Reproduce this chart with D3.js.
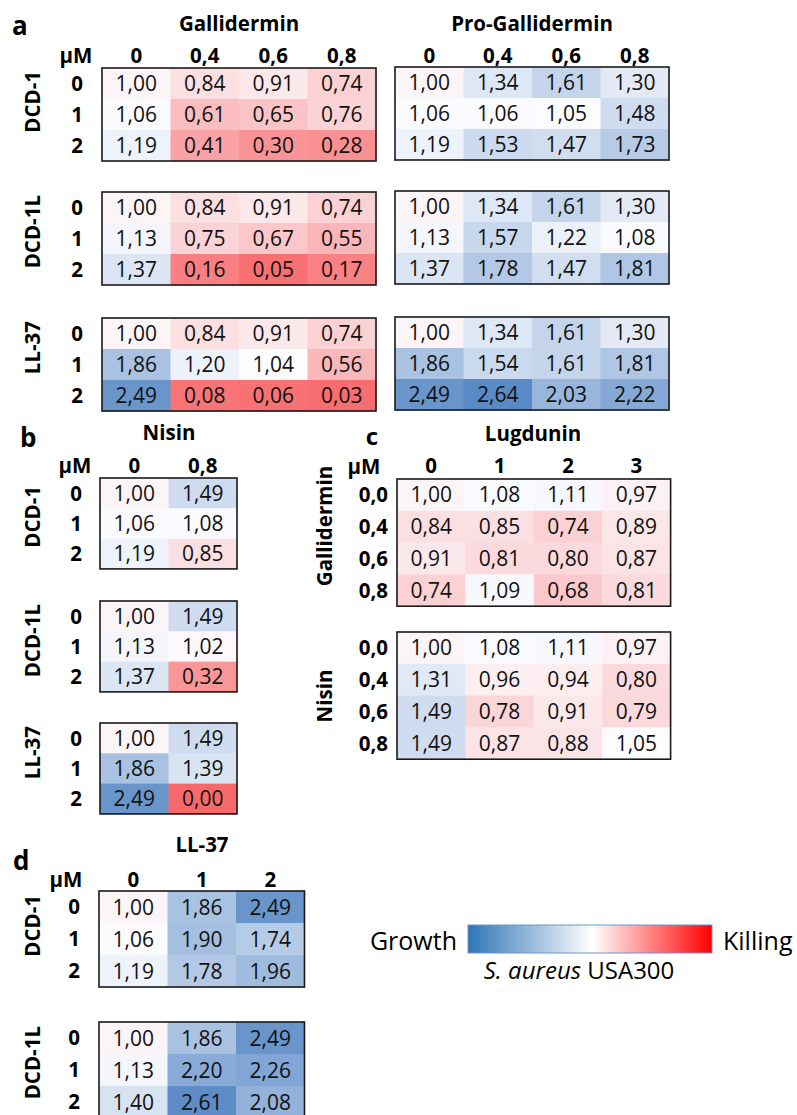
<!DOCTYPE html>
<html><head><meta charset="utf-8">
<script src="https://cdn.jsdelivr.net/npm/d3@7"></script>
<style>body{margin:0;background:#fff}svg{display:block}text{font-family:"Open Sans",sans-serif}</style>
</head><body>
<svg id="c" width="797" height="1115"></svg>
<script>
// ---------- data ----------
const doseRows = ["0","1","2"];
const gallCols = ["0","0,4","0,6","0,8"];
const gallDCD1  = [[1.00,0.84,0.91,0.74],[1.06,0.61,0.65,0.76],[1.19,0.41,0.30,0.28]];
const gallDCD1L = [[1.00,0.84,0.91,0.74],[1.13,0.75,0.67,0.55],[1.37,0.16,0.05,0.17]];
const gallLL37  = [[1.00,0.84,0.91,0.74],[1.86,1.20,1.04,0.56],[2.49,0.08,0.06,0.03]];
const proDCD1   = [[1.00,1.34,1.61,1.30],[1.06,1.06,1.05,1.48],[1.19,1.53,1.47,1.73]];
const proDCD1L  = [[1.00,1.34,1.61,1.30],[1.13,1.57,1.22,1.08],[1.37,1.78,1.47,1.81]];
const proLL37   = [[1.00,1.34,1.61,1.30],[1.86,1.54,1.61,1.81],[2.49,2.64,2.03,2.22]];
const nisCols = ["0","0,8"];
const nisDCD1  = [[1.00,1.49],[1.06,1.08],[1.19,0.85]];
const nisDCD1L = [[1.00,1.49],[1.13,1.02],[1.37,0.32]];
const nisLL37  = [[1.00,1.49],[1.86,1.39],[2.49,0.00]];
const lugCols = ["0","1","2","3"];
const lugRows = ["0,0","0,4","0,6","0,8"];
const lugGall = [[1.00,1.08,1.11,0.97],[0.84,0.85,0.74,0.89],[0.91,0.81,0.80,0.87],[0.74,1.09,0.68,0.81]];
const lugNis  = [[1.00,1.08,1.11,0.97],[1.31,0.96,0.94,0.80],[1.49,0.78,0.91,0.79],[1.49,0.87,0.88,1.05]];
const llCols = ["0","1","2"];
const llDCD1  = [[1.00,1.86,2.49],[1.06,1.90,1.74],[1.19,1.78,1.96]];
const llDCD1L = [[1.00,1.86,2.49],[1.13,2.20,2.26],[1.40,2.61,2.08]];
const colorDomain = [0, 1.05, 2.64];
const colorRange = ["#F8696B","#FCFCFF","#5A8AC6"];

// ---------- drawing ----------
const svg = d3.select("#c");
const color = d3.scaleLinear().domain(colorDomain).range(colorRange);
const fmt = v => d3.format(".2f")(v).replace(".", ",");
const FS = 21;   // cell font size
const BS = 20.5; // bold label size

function txt(x, y, s, o = {}) {
  const t = svg.append("text").attr("x", x).attr("y", y).text(s)
    .attr("font-size", o.size || BS).attr("font-weight", o.bold ? 700 : 400)
    .attr("text-anchor", o.anchor || "middle").attr("fill", o.fill || "#000");
  if (o.italic) t.attr("font-style", "italic");
  return t;
}
function vlabel(x, y, s, anchor) {
  svg.append("text").attr("transform", `translate(${x},${y}) rotate(-90)`)
    .attr("text-anchor", anchor).attr("dy", "0.36em")
    .attr("font-size", BS).attr("font-weight", 700).text(s);
}
function grid(x0, y0, colW, rowH, cols, rows, vals) {
  const xs = d3.scaleBand().domain(d3.range(cols.length)).range([x0, x0 + colW * cols.length]);
  const ys = d3.scaleBand().domain(d3.range(rows.length)).range([y0, y0 + rowH * rows.length]);
  const g = svg.append("g");
  const cells = vals.flatMap((r, i) => r.map((v, j) => ({i, j, v})));
  g.selectAll("rect.cell").data(cells).join("rect").attr("class", "cell")
    .attr("x", d => xs(d.j)).attr("y", d => ys(d.i))
    .attr("width", xs.bandwidth() + 0.5).attr("height", ys.bandwidth() + 0.5)
    .attr("fill", d => color(d.v));
  g.selectAll("text").data(cells).join("text")
    .attr("x", d => xs(d.j) + xs.bandwidth() / 2).attr("y", d => ys(d.i) + ys.bandwidth() / 2)
    .attr("dy", "0.36em").attr("text-anchor", "middle").attr("font-size", FS)
    .attr("fill", "#111").text(d => fmt(d.v));
  g.append("rect").attr("x", x0).attr("y", y0)
    .attr("width", colW * cols.length).attr("height", rowH * rows.length)
    .attr("fill", "none").attr("stroke", "#1a1a1a").attr("stroke-width", 1.6);
  return {xs, ys};
}
function colHeads(sc, cols, y) {
  cols.forEach((c, j) => txt(sc.xs(j) + sc.xs.bandwidth() / 2, y, c, {bold: true}));
}
function rowHeads(sc, rows, x, anchor) {
  rows.forEach((r, i) => txt(x, sc.ys(i) + sc.ys.bandwidth() / 2, r, {bold: true, anchor: anchor || "middle"}).attr("dy", "0.36em"));
}

// Panel a
txt(12, 35, "a", {bold: true, size: 26, anchor: "start"});
txt(239, 31, "Gallidermin", {bold: true});
txt(532, 31, "Pro-Gallidermin", {bold: true});
txt(76, 63, "µM", {bold: true});
const aTops = [68, 192, 318];
const aNames = ["DCD-1", "DCD-1L", "LL-37"];
const aGall = [gallDCD1, gallDCD1L, gallLL37];
const aPro = [proDCD1, proDCD1L, proLL37];
aTops.forEach((t, k) => {
  const g1 = grid(102, t, 68.5, 31, gallCols, doseRows, aGall[k]);
  const g2 = grid(395, t - 1, 68.5, 31, gallCols, doseRows, aPro[k]);
  if (k === 0) { colHeads(g1, gallCols, 63); colHeads(g2, gallCols, 63); }
  rowHeads(g1, doseRows, 77);
  vlabel(33, t + 3, aNames[k], "end");
});

// Panel b
txt(20, 447, "b", {bold: true, size: 26, anchor: "start"});
txt(169, 440, "Nisin", {bold: true});
txt(75, 473, "µM", {bold: true});
const bTops = [478, 601, 723];
const bVals = [nisDCD1, nisDCD1L, nisLL37];
bTops.forEach((t, k) => {
  const g = grid(100, t, 68.5, 30.3, nisCols, doseRows, bVals[k]);
  if (k === 0) colHeads(g, nisCols, 473);
  rowHeads(g, doseRows, 76);
  vlabel(33, t + (k === 0 ? 8 : 3), aNames[k], "end");
});

// Panel c
txt(372, 445, "c", {bold: true, size: 24});
txt(533, 441, "Lugdunin", {bold: true});
txt(364, 474, "µM", {bold: true});
const c1 = grid(397, 479, 68.4, 31.8, lugCols, lugRows, lugGall);
colHeads(c1, lugCols, 473);
rowHeads(c1, lugRows, 388, "end");
const c2 = grid(397, 632, 68.4, 31.8, lugCols, lugRows, lugNis);
rowHeads(c2, lugRows, 388, "end");
vlabel(325, 526, "Gallidermin", "middle");
vlabel(325, 696, "Nisin", "middle");

// Panel d
txt(13, 870, "d", {bold: true, size: 26, anchor: "start"});
txt(202, 852, "LL-37", {bold: true});
txt(66, 887, "µM", {bold: true});
const dTops = [891, 1022];
const dVals = [llDCD1, llDCD1L];
dTops.forEach((t, k) => {
  const g = grid(99, t, 68.5, 32, llCols, doseRows, dVals[k]);
  if (k === 0) colHeads(g, llCols, 887);
  rowHeads(g, doseRows, 74);
  vlabel(33, t + 4, aNames[k], "end");
});

// Legend
const defs = svg.append("defs");
const lg = defs.append("linearGradient").attr("id", "lg");
[[0, "#2e75b6"], [0.51, "#ffffff"], [1, "#ff0000"]].forEach(([o, c]) =>
  lg.append("stop").attr("offset", o).attr("stop-color", c));
svg.append("rect").attr("x", 468).attr("y", 925).attr("width", 244).attr("height", 28)
  .attr("fill", "url(#lg)").attr("stroke", "#6f95c4").attr("stroke-width", 1);
txt(457, 950, "Growth", {size: 25, anchor: "end"});
txt(723, 950, "Killing", {size: 25, anchor: "start"});
const st = svg.append("text").attr("x", 579).attr("y", 979).attr("text-anchor", "middle").attr("font-size", 24);
st.append("tspan").attr("font-style", "italic").text("S. aureus");
st.append("tspan").text(" USA300");
</script>
</body></html>
